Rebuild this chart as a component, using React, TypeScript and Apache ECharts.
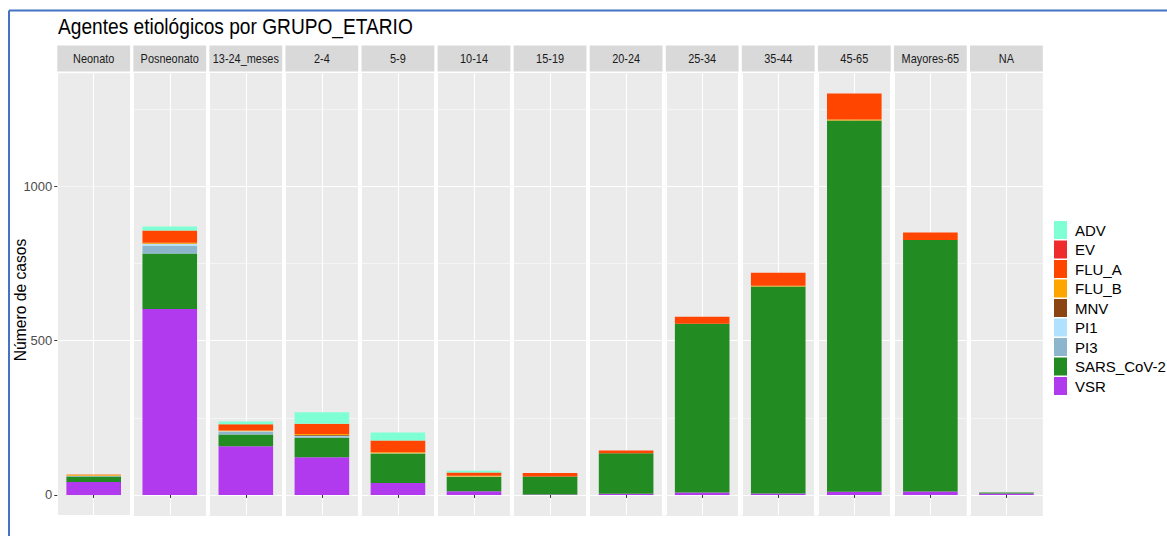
import React, { useEffect, useRef } from "react";
import * as echarts from "echarts";

// Facet categories (age groups)
const groups = [
  "Neonato", "Posneonato", "13-24_meses", "2-4", "5-9", "10-14", "15-19",
  "20-24", "25-34", "35-44", "45-65", "Mayores-65", "NA",
];

// Agents, legend order (top of stack first)
const agents = ["ADV", "EV", "FLU_A", "FLU_B", "MNV", "PI1", "PI3", "SARS_CoV-2", "VSR"];

// Values per age group (same order as groups)
const ADV = [0, 13, 9, 37, 26, 5, 0, 0, 0, 0, 0, 0, 0];
const EV = [0, 0, 0, 0, 0, 0, 0, 0, 0, 0, 0, 0, 0];
const FLU_A = [1, 40, 20, 34, 38, 11, 11, 9, 22, 42, 85, 24, 0];
const FLU_B = [3, 3, 3, 3, 3, 2, 0, 0, 0, 3, 3, 0, 0];
const MNV = [0, 1, 0, 2, 0, 0, 0, 0, 0, 0, 0, 0, 0];
const PI1 = [0, 6, 2, 2, 1, 1, 0, 0, 0, 0, 0, 0, 0];
const PI3 = [2, 25, 8, 5, 0, 0, 0, 0, 0, 0, 0, 0, 0];
const SARS_CoV_2 = [18, 180, 38, 63, 95, 47, 59, 131, 547, 670, 1203, 815, 3];
const VSR = [42, 602, 158, 122, 39, 12, 1, 4, 8, 5, 10, 11, 5];

const yTicks = [0, 500, 1000];

const values: Record<string, number[]> = {
  ADV, EV, FLU_A, FLU_B, MNV, PI1, PI3, "SARS_CoV-2": SARS_CoV_2, VSR,
};

const colors: Record<string, string> = {
  ADV: "#7FFFD4",
  EV: "#EE2C2C",
  FLU_A: "#FF4500",
  FLU_B: "#FFA500",
  MNV: "#8B4513",
  PI1: "#B0E2FF",
  PI3: "#8DB6CD",
  "SARS_CoV-2": "#228B22",
  VSR: "#B23AEE",
};

const FONT = "'Liberation Sans', Arial, sans-serif";

export default function App() {
  const ref = useRef<HTMLDivElement>(null);

  useEffect(() => {
    if (!ref.current) return;
    const chart = echarts.init(ref.current, undefined, { renderer: "svg" });

    const PANEL_LEFT = 57.3;
    const PITCH = 76.06;
    const PANEL_W = 72.8;
    const PANEL_TOP = 73.3;
    const PANEL_BOTTOM = 515;

    const totals = groups.map((_, i) => agents.reduce((s, a) => s + values[a][i], 0));
    const maxTotal = Math.max(...totals);
    const yMin = -0.05 * maxTotal;
    const yMax = 1.05 * maxTotal;

    const grids = groups.map((_, i) => ({
      left: PANEL_LEFT + i * PITCH,
      top: PANEL_TOP,
      width: PANEL_W,
      height: PANEL_BOTTOM - PANEL_TOP,
      show: true,
      backgroundColor: "#EBEBEB",
      borderWidth: 0,
    }));

    const catAxes = groups.map((g, i) => ({
      type: "category",
      gridIndex: i,
      data: [g],
      axisLabel: { show: false },
      axisLine: { show: false },
      axisTick: { show: true, alignWithLabel: true, length: 3, lineStyle: { color: "#333333", width: 1 } },
      splitLine: { show: false },
    }));
    const valAxes = groups.map((_, i) => ({
      type: "value",
      gridIndex: i,
      min: 0,
      max: 2,
      interval: 1,
      axisLabel: { show: false },
      axisLine: { show: false },
      axisTick: { show: false },
      splitLine: { show: true, lineStyle: { color: "#FFFFFF", width: 1.1 } },
    }));

    const yAxes = groups.map((_, i) => ({
      type: "value",
      gridIndex: i,
      min: yMin,
      max: yMax,
      minInterval: 250,
      maxInterval: 250,
      axisLine: { show: false },
      axisTick:
        i === 0
          ? { show: true, length: 3, customValues: yTicks, lineStyle: { color: "#333333" } }
          : { show: false },
      axisLabel:
        i === 0
          ? {
              show: true,
              color: "#4D4D4D",
              fontSize: 13,
              fontFamily: FONT,
              margin: 5,
              customValues: yTicks,
              formatter: (v: number) =>
                yTicks.includes(Math.round(v)) && Math.abs(v - Math.round(v)) < 1e-6 ? String(Math.round(v)) : "",
            }
          : { show: false },
      splitLine: {
        show: true,
        lineStyle: {
          color: ["#EBEBEB", "#FFFFFF", "#F5F5F5", "#FFFFFF", "#F5F5F5", "#FFFFFF", "#F5F5F5", "#EBEBEB"],
          width: 1.2,
        },
      },
    }));

    const stackOrder = [...agents].reverse(); // bottom to top
    const series: any[] = [];
    groups.forEach((_, i) => {
      stackOrder.forEach((a) => {
        series.push({
          type: "bar",
          name: a,
          xAxisIndex: i,
          yAxisIndex: i,
          stack: "s" + i,
          barWidth: "75%",
          data: [values[a][i]],
          itemStyle: { color: colors[a], borderWidth: 0 },
          z: 3,
        });
      });
    });

    const graphics: any[] = [];
    groups.forEach((g, i) => {
      const x = PANEL_LEFT + i * PITCH;
      graphics.push({
        type: "rect",
        shape: { x, y: 45.5, width: PANEL_W, height: 26 },
        style: { fill: "#D9D9D9" },
        silent: true,
      });
      graphics.push({
        type: "text",
        x: x + PANEL_W / 2,
        y: 58.5,
        scaleX: 0.84,
        style: {
          text: g,
          fill: "#1A1A1A",
          font: `13px ${FONT}`,
          textAlign: "center",
          textVerticalAlign: "middle",
        },
        silent: true,
      });
    });
    graphics.push({
      type: "text",
      x: 58,
      y: 15,
      scaleX: 0.87,
      style: {
        text: "Agentes etiológicos por GRUPO_ETARIO",
        fill: "#000000",
        font: `22px ${FONT}`,
        textAlign: "left",
        textVerticalAlign: "top",
      },
      silent: true,
    });
    graphics.push({
      type: "text",
      x: 20,
      y: 300,
      rotation: Math.PI / 2,
      scaleX: 0.92,
      style: {
        text: "Número de casos",
        fill: "#000000",
        font: `17px ${FONT}`,
        textAlign: "center",
        textVerticalAlign: "middle",
      },
      silent: true,
    });
    graphics.push({
      type: "line",
      shape: { x1: 9, y1: 10.5, x2: 1167, y2: 10.5 },
      style: { stroke: "#4472C4", lineWidth: 2 },
      silent: true,
    });
    graphics.push({
      type: "line",
      shape: { x1: 9, y1: 10.5, x2: 9, y2: 536 },
      style: { stroke: "#4472C4", lineWidth: 2 },
      silent: true,
    });

    chart.setOption({
      animation: false,
      backgroundColor: "#FFFFFF",
      legend: {
        data: agents,
        orient: "vertical",
        left: 1054,
        top: 221,
        padding: 0,
        itemWidth: 13,
        itemHeight: 18,
        itemGap: 1.5,
        icon: "rect",
        selectedMode: false,
        textStyle: { color: "#000000", fontSize: 15, fontFamily: FONT, padding: [0, 0, 0, 3] },
      },
      grid: grids,
      xAxis: [...catAxes, ...valAxes],
      yAxis: yAxes,
      series,
      graphic: graphics,
    });

    return () => chart.dispose();
  }, []);

  return (
    <div
      ref={ref}
      style={{ position: "fixed", left: 0, top: 0, width: 1167, height: 536, background: "#FFFFFF" }}
    />
  );
}
